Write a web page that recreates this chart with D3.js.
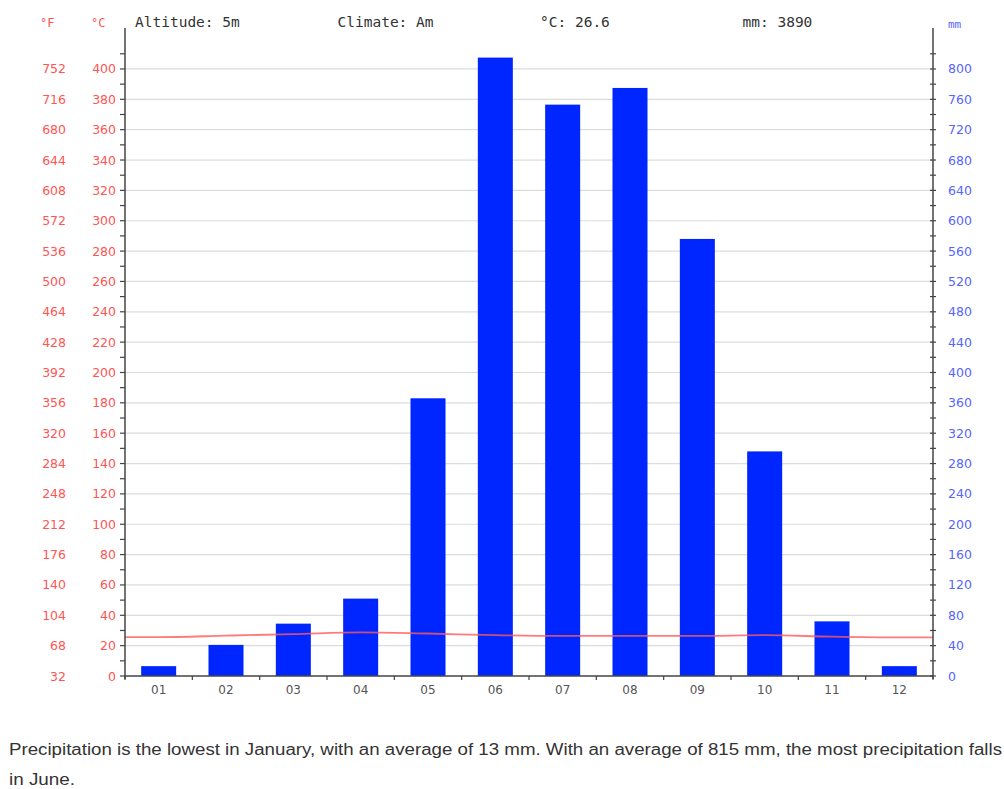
<!DOCTYPE html>
<html>
<head>
<meta charset="utf-8">
<script src="https://cdn.jsdelivr.net/npm/d3@7"></script>
<style>
  body { margin: 0; background: #fff; }
  svg { display: block; }
</style>
</head>
<body>
<div id="chart"></div>
<script>
// data
var months = ["01","02","03","04","05","06","07","08","09","10","11","12"];
var precip = [13, 41, 69, 102, 366, 815, 753, 775, 576, 296, 72, 13];   // mm
var temps  = [25.6, 26.6, 27.6, 28.8, 28.0, 26.9, 26.4, 26.4, 26.4, 26.9, 25.9, 25.4]; // °C
var celsiusTicks = [0,20,40,60,80,100,120,140,160,180,200,220,240,260,280,300,320,340,360,380,400];
var fahrenheitTicks = [32,68,104,140,176,212,248,284,320,356,392,428,464,500,536,572,608,644,680,716,752];
var mmTicks = [0,40,80,120,160,200,240,280,320,360,400,440,480,520,560,600,640,680,720,760,800];
var minorTicks = d3.range(0, 411, 10);
var header = ["Altitude: 5m", "Climate: Am", "°C: 26.6", "mm: 3890"];
var caption = ["Precipitation is the lowest in January, with an average of 13 mm. With an average of 815 mm, the most precipitation falls",
               "in June."];

drawClimate();

function drawClimate(){
  var w = 1004, h = 789;
  var left = 125, right = 933, bottom = 676, plotTop = 28;

  var svg = d3.select("#chart").append("svg")
      .attr("width", w).attr("height", h);

  var x = d3.scaleBand().domain(months).range([left, right]).paddingInner(0.48).paddingOuter(0.24);
  var xb = d3.scaleBand().domain(months).range([left, right]);
  var yC = d3.scaleLinear().domain([0, 427]).range([bottom, plotTop]);
  var yMM = d3.scaleLinear().domain([0, 854]).range([bottom, plotTop]);

  // grid
  svg.append("g").selectAll("line")
    .data(celsiusTicks.slice(1))
    .enter().append("line")
    .attr("x1", left).attr("x2", right)
    .attr("y1", function(d){ return yC(d); })
    .attr("y2", function(d){ return yC(d); })
    .attr("stroke", "#dcdcdc").attr("stroke-width", 1.2);

  // bars
  svg.append("g").selectAll("rect")
    .data(precip)
    .enter().append("rect")
    .attr("x", function(d, i){ return x(months[i]); })
    .attr("width", x.bandwidth())
    .attr("y", function(d){ return yMM(d); })
    .attr("height", function(d){ return bottom - yMM(d); })
    .attr("fill", "#0026ff");

  // temperature line, flat to the edges
  var pts = [[left, temps[0]]];
  temps.forEach(function(t, i){ pts.push([xb(months[i]) + xb.bandwidth()/2, t]); });
  pts.push([right, temps[temps.length-1]]);
  svg.append("path")
    .datum(pts)
    .attr("fill", "none")
    .attr("stroke", "#ff5a5a")
    .attr("stroke-width", 1.8)
    .attr("stroke-opacity", 0.8)
    .attr("d", d3.line().x(function(d){ return d[0]; }).y(function(d){ return yC(d[1]); }).curve(d3.curveMonotoneX));

  // left axis
  svg.append("line").attr("x1", left).attr("x2", left).attr("y1", plotTop).attr("y2", bottom + 3)
    .attr("stroke", "#444").attr("stroke-width", 1.5);
  svg.append("g").selectAll("line").data(minorTicks).enter().append("line")
    .attr("x1", left - 5).attr("x2", left)
    .attr("y1", function(d){ return yC(d); }).attr("y2", function(d){ return yC(d); })
    .attr("stroke", "#444").attr("stroke-width", 1.2);

  // right axis
  svg.append("line").attr("x1", right).attr("x2", right).attr("y1", plotTop).attr("y2", bottom + 3)
    .attr("stroke", "#444").attr("stroke-width", 1.5);
  svg.append("g").selectAll("line").data(minorTicks).enter().append("line")
    .attr("x1", right - 3).attr("x2", right + 3)
    .attr("y1", function(d){ return yC(d); }).attr("y2", function(d){ return yC(d); })
    .attr("stroke", "#444").attr("stroke-width", 1.2);

  // bottom axis
  svg.append("line").attr("x1", left).attr("x2", right).attr("y1", bottom).attr("y2", bottom)
    .attr("stroke", "#444").attr("stroke-width", 1.5);
  svg.append("g").selectAll("line").data(months).enter().append("line")
    .attr("x1", function(d){ return xb(d); }).attr("x2", function(d){ return xb(d); })
    .attr("y1", bottom).attr("y2", bottom + 4)
    .attr("stroke", "#444").attr("stroke-width", 1.2);
  svg.append("line").attr("x1", right).attr("x2", right).attr("y1", bottom).attr("y2", bottom + 4)
    .attr("stroke", "#444");

  svg.append("g").selectAll("text").data(months).enter().append("text")
    .attr("x", function(d){ return xb(d) + xb.bandwidth()/2; })
    .attr("y", bottom + 18)
    .attr("text-anchor", "middle")
    .style("font-family", "DejaVu Sans").style("font-size", "12px")
    .attr("fill", "#555")
    .text(function(d){ return d; });

  // tick labels
  svg.append("g").selectAll("text").data(celsiusTicks).enter().append("text")
    .attr("x", 116).attr("y", function(d){ return yC(d) + 4.5; })
    .attr("text-anchor", "end")
    .style("font-family", "DejaVu Sans").style("font-size", "12.5px")
    .attr("fill", "#ff5555")
    .text(function(d){ return d; });
  svg.append("g").selectAll("text").data(fahrenheitTicks).enter().append("text")
    .attr("x", 66).attr("y", function(d, i){ return yC(celsiusTicks[i]) + 4.5; })
    .attr("text-anchor", "end")
    .style("font-family", "DejaVu Sans").style("font-size", "12.5px")
    .attr("fill", "#ff5555")
    .text(function(d){ return d; });
  svg.append("g").selectAll("text").data(mmTicks).enter().append("text")
    .attr("x", 948).attr("y", function(d){ return yMM(d) + 4.5; })
    .style("font-family", "DejaVu Sans").style("font-size", "12.5px")
    .attr("fill", "#5566ff")
    .text(function(d){ return d; });

  // unit labels
  svg.append("text").attr("x", 40).attr("y", 27).attr("fill", "#ff5555")
    .style("font-family", "DejaVu Sans Mono").style("font-size", "12px").text("°F");
  svg.append("text").attr("x", 91).attr("y", 27).attr("fill", "#ff5555")
    .style("font-family", "DejaVu Sans Mono").style("font-size", "12px").text("°C");
  svg.append("text").attr("x", 948).attr("y", 28).attr("fill", "#5566ff")
    .style("font-family", "DejaVu Sans Mono").style("font-size", "11px").text("mm");

  // header
  svg.append("g").selectAll("text").data(header).enter().append("text")
    .attr("x", function(d, i){ return 135 + i * 202.5; })
    .attr("y", 27)
    .style("font-family", "DejaVu Sans Mono").style("font-size", "14.5px")
    .attr("fill", "#333")
    .text(function(d){ return d; });

  // caption (stretched to the reference's width)
  var capWidths = [993, 66];
  svg.append("g").selectAll("text").data(caption).enter().append("text")
    .attr("x", 9).attr("y", function(d, i){ return 755 + i * 30; })
    .attr("textLength", function(d, i){ return capWidths[i]; })
    .attr("lengthAdjust", "spacingAndGlyphs")
    .style("font-family", "Liberation Sans").style("font-size", "16px")
    .attr("fill", "#333")
    .text(function(d){ return d; });
}
</script>
</body>
</html>
